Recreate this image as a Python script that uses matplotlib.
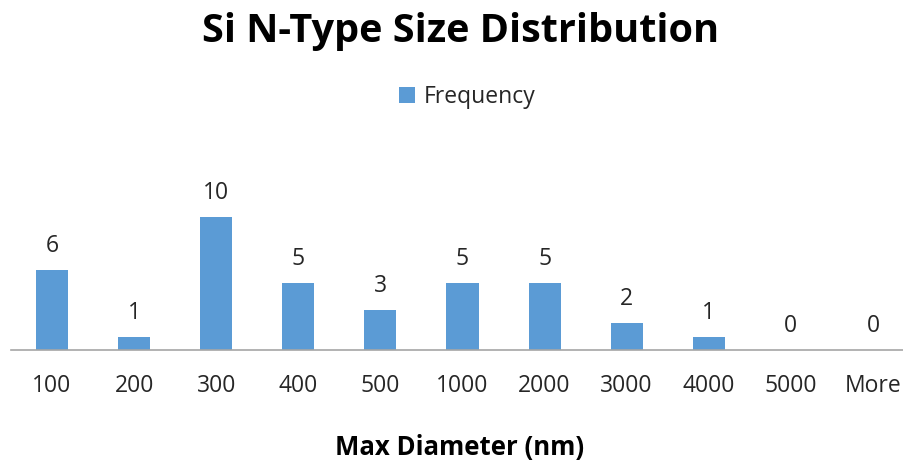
import matplotlib.pyplot as plt

categories = ['100', '200', '300', '400', '500', '1000', '2000', '3000', '4000', '5000', 'More']
frequency = [6, 1, 10, 5, 3, 5, 5, 2, 1, 0, 0]

BAR_COLOR = '#5B9BD5'
TEXT_COLOR = '#262626'

plt.rcParams['font.family'] = ['Open Sans', 'DejaVu Sans']

fig = plt.figure(figsize=(9.04, 4.61), dpi=100)
# plot area runs a little past the right edge, so the last slot is as wide as the others
ax = fig.add_axes([11 / 904, 111 / 461, 903 / 904, 160 / 461])

x = list(range(len(categories)))
bars = ax.bar(x, frequency, width=0.39, color=BAR_COLOR, label='Frequency', zorder=2)

# value labels above each bar
for xi, v in zip(x, frequency):
    ax.annotate(str(v), (xi, v), xytext=(0, 13), textcoords='offset points',
                ha='center', va='baseline', fontsize=16.5, color=TEXT_COLOR)

ax.set_xlim(-0.5, len(categories) - 0.5)
ax.set_ylim(0, 12)
ax.set_xticks(x)
ax.set_xticklabels(categories, fontsize=16.5, color=TEXT_COLOR)
ax.tick_params(axis='x', length=0, pad=17)
ax.set_yticks([])

for side in ['top', 'right', 'left']:
    ax.spines[side].set_visible(False)
ax.spines['bottom'].set_color('#A6A6A6')
ax.spines['bottom'].set_linewidth(1.2)

fig.text(461 / 904, 1 - 42 / 461, 'Si N-Type Size Distribution', ha='center', va='baseline',
         fontsize=28.5, fontweight='bold', color='black')
fig.text(460 / 904, 1 - 455 / 461, 'Max Diameter (nm)', ha='center', va='baseline',
         fontsize=18.5, fontweight='bold', color='black')

fig.legend(handles=[bars], loc='center', bbox_to_anchor=(0.517, 1 - 97 / 461),
           frameon=False, fontsize=16.5, handlelength=0.7, handleheight=0.7,
           handletextpad=0.4, labelcolor=TEXT_COLOR)

fig.savefig('out.png', dpi=100)
